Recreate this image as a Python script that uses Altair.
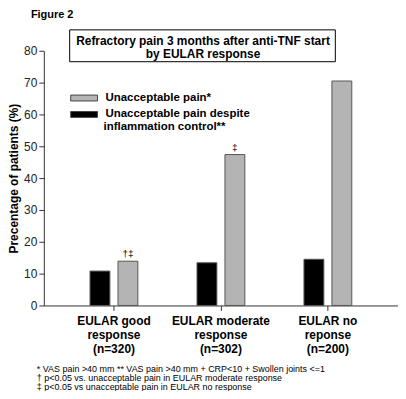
import altair as alt
import pandas as pd

categories = ["EULAR good|response|(n=320)", "EULAR moderate|response|(n=302)", "EULAR no|reponse|(n=200)"]
series = ["Unacceptable pain*", "Unacceptable pain despite inflammation control**"]
pain_all = [13.9, 47.4, 70.5]
pain_controlled = [10.8, 13.4, 14.5]
marks_text = ["†‡", "‡", ""]
footnotes = [
    "* VAS pain >40 mm ** VAS pain >40 mm + CRP<10 + Swollen joints <=1",
    "† p<0.05 vs. unacceptable pain in EULAR moderate response",
    "‡ p<0.05 vs unacceptable pain in EULAR no response",
]
title_lines = ["Refractory pain 3 months after anti-TNF start", "by EULAR response"]

rows = []
for i, c in enumerate(categories):
    rows.append({"cat": c, "series": series[1], "value": pain_controlled[i], "note": ""})
    rows.append({"cat": c, "series": series[0], "value": pain_all[i], "note": marks_text[i]})
df = pd.DataFrame(rows)

FONT = "Liberation Sans"
W, H = 356, 256

x = alt.X("cat:N", sort=categories, title=None,
          scale=alt.Scale(paddingInner=0.553, paddingOuter=0.432),
          axis=alt.Axis(labelExpr="split(datum.value, '|')", labelAngle=0,
                        labelFont=FONT, labelFontSize=12, labelFontWeight="bold",
                        labelColor="#000", labelLineHeight=14, labelPadding=5,
                        domainColor="#333", tickColor="#333", tickSize=5))
xo = alt.XOffset("series:N", sort=[series[1], series[0]],
                 scale=alt.Scale(paddingInner=0.29, paddingOuter=0))
y = alt.Y("value:Q", scale=alt.Scale(domain=[0, 80]), title="Precentage of patients (%)",
          axis=alt.Axis(values=list(range(0, 81, 10)), grid=False, labelFont=FONT,
                        labelFontSize=12, labelColor="#222", domainColor="#333",
                        tickColor="#333", tickSize=5, titleFont=FONT, titleFontSize=12,
                        titleFontWeight="bold", titleColor="#000", titlePadding=3,
                        labelOverlap=False))

label_expr = ("datum.label == '" + series[1] + "' ? 'Unacceptable pain despite' : datum.label")

bars = alt.Chart(df).mark_bar(stroke="#555", strokeWidth=1).encode(
    x=x, xOffset=xo, y=y,
    color=alt.Color("series:N", scale=alt.Scale(domain=series, range=["#b4b4b4", "#000000"]),
                    legend=alt.Legend(title=None, orient="none", legendX=33, legendY=40,
                                      symbolType="M-2,-0.44H2V0.44H-2Z", symbolSize=182,
                                      symbolStrokeColor="#444", symbolStrokeWidth=1,
                                      labelFont=FONT, labelFontSize=11.5, labelFontWeight="bold",
                                      labelColor="#000", labelLimit=300, rowPadding=3.5,
                                      labelOffset=14, labelExpr=label_expr)),
)

notes = alt.Chart(df).mark_text(font=FONT, fontSize=10, dy=-7, color="#000").encode(
    x=x, xOffset=xo, y=y, text="note:N")

legend_extra = alt.Chart(pd.DataFrame({"t": ["inflammation control**"]})).mark_text(
    font=FONT, fontSize=11.5, fontWeight="bold", color="#000", align="left").encode(
    x=alt.value(60), y=alt.value(77), text="t:N")

box = alt.Chart(pd.DataFrame({"a": [0]})).mark_rect(fill="white", stroke="#000", strokeWidth=1).encode(
    x=alt.value(26), x2=alt.value(293), y=alt.value(-21), y2=alt.value(11))

t1 = alt.Chart(pd.DataFrame({"t": [title_lines[0]]})).mark_text(
    font=FONT, fontSize=12, fontWeight="bold", color="#000").encode(x=alt.value(160), y=alt.value(-10), text="t:N")
t2 = alt.Chart(pd.DataFrame({"t": [title_lines[1]]})).mark_text(
    font=FONT, fontSize=12, fontWeight="bold", color="#000").encode(x=alt.value(160), y=alt.value(3), text="t:N")

fig = alt.Chart(pd.DataFrame({"t": ["Figure 2"]})).mark_text(
    font=FONT, fontSize=11, fontWeight="bold", color="#000", align="left").encode(
    x=alt.value(-13), y=alt.value(-36), text="t:N")

fns = [alt.Chart(pd.DataFrame({"t": [footnotes[i]]})).mark_text(
    font=FONT, fontSize=9, color="#000", align="left").encode(
    x=alt.value(-7), y=alt.value(320 + 9 * i), text="t:N") for i in range(3)]

chart = alt.layer(bars, notes, legend_extra, box, t1, t2, fig, *fns).properties(
    width=W, height=H,
    autosize=alt.AutoSizeParams(type="none"),
    padding={"left": 36, "top": 42, "right": 0, "bottom": 85},
    background="white",
).configure_view(stroke=None)

chart.save("out.html", embed_options={"renderer": "svg", "actions": False})
